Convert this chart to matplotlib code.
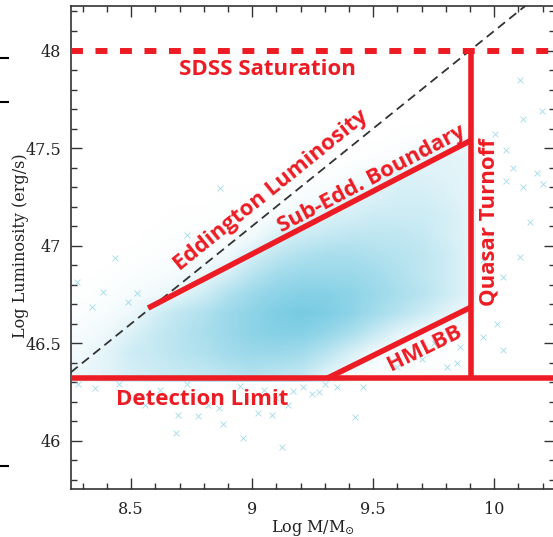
import numpy as np
import matplotlib.pyplot as plt
from matplotlib.colors import LinearSegmentedColormap
from matplotlib.lines import Line2D
from matplotlib.patches import Rectangle
from matplotlib.ticker import MultipleLocator, FuncFormatter

# dense quasar cloud, read off as a coarse density map
# (cell centres in log M and log L, relative density 0..10)
mass_grid = [8.3, 8.4, 8.5, 8.6, 8.7, 8.8, 8.9, 9.0, 9.1, 9.2, 9.3, 9.4, 9.5, 9.6, 9.7, 9.8, 9.9]
lum_grid = [46.35, 46.45, 46.55, 46.65, 46.75, 46.85, 46.95, 47.05, 47.15, 47.25, 47.35, 47.45, 47.55, 47.65]
density = [
    [1.5, 2.0, 3.0, 3.5, 4.0, 4.5, 5.0, 5.5, 5.0, 4.5, 2.5, 0.8, 0.4, 0.3, 0.2, 0.1, 0.1],
    [1.0, 2.0, 3.5, 4.0, 5.0, 5.5, 6.5, 7.0, 7.0, 6.5, 5.0, 3.0, 1.0, 0.4, 0.3, 0.2, 0.1],
    [0.6, 1.2, 2.5, 4.0, 5.0, 6.0, 7.0, 8.0, 8.5, 8.5, 7.5, 6.0, 4.0, 2.0, 0.6, 0.3, 0.2],
    [0.3, 0.6, 1.2, 3.0, 4.5, 5.5, 7.0, 8.0, 9.0, 9.5, 9.0, 8.0, 6.5, 5.0, 3.5, 2.0, 1.0],
    [0.1, 0.3, 0.6, 1.0, 2.0, 3.5, 5.5, 7.0, 8.0, 8.5, 8.5, 8.0, 7.0, 6.0, 5.0, 3.5, 2.0],
    [0.0, 0.1, 0.3, 0.5, 0.8, 1.5, 3.0, 5.0, 6.5, 7.0, 7.0, 7.0, 6.5, 5.5, 4.5, 3.5, 2.0],
    [0.0, 0.0, 0.1, 0.2, 0.3, 0.5, 1.0, 3.0, 4.5, 5.5, 6.0, 6.0, 5.5, 5.0, 4.5, 3.5, 2.0],
    [0.0, 0.0, 0.0, 0.1, 0.2, 0.3, 0.3, 0.8, 2.5, 3.5, 4.0, 4.5, 4.5, 4.5, 4.0, 3.0, 2.0],
    [0.0, 0.0, 0.0, 0.0, 0.1, 0.1, 0.2, 0.3, 0.6, 1.5, 2.5, 3.0, 3.5, 3.5, 3.5, 3.0, 2.0],
    [0.0, 0.0, 0.0, 0.0, 0.0, 0.0, 0.1, 0.1, 0.2, 0.4, 0.8, 2.0, 2.5, 3.0, 3.0, 2.5, 1.8],
    [0.0, 0.0, 0.0, 0.0, 0.0, 0.0, 0.0, 0.0, 0.1, 0.1, 0.2, 0.4, 1.0, 2.5, 2.5, 2.2, 1.8],
    [0.0, 0.0, 0.0, 0.0, 0.0, 0.0, 0.0, 0.0, 0.0, 0.0, 0.0, 0.1, 0.2, 0.4, 1.5, 2.0, 1.8],
    [0.0, 0.0, 0.0, 0.0, 0.0, 0.0, 0.0, 0.0, 0.0, 0.0, 0.0, 0.0, 0.0, 0.1, 0.2, 0.5, 0.8],
    [0.0, 0.0, 0.0, 0.0, 0.0, 0.0, 0.0, 0.0, 0.0, 0.0, 0.0, 0.0, 0.0, 0.0, 0.0, 0.0, 0.0],
]

# sparse quasars outside the main cloud
out_mass = [8.279, 8.556, 8.693, 8.776, 8.687, 8.879, 8.964, 9.023, 9.084, 9.125,
            9.426, 9.456, 9.350, 9.278, 9.247, 9.212, 8.862, 8.817, 9.147, 9.169,
            8.35, 8.45, 8.62, 8.95, 9.05, 9.30, 8.73, 9.10,
            10.107, 10.12, 10.196, 10.003, 10.05, 10.078, 10.176, 10.12, 10.05,
            10.203, 10.148, 10.107, 10.038, 9.983, 9.954, 10.01, 9.955, 10.038,
            8.867, 8.433, 8.729, 8.385, 8.337, 8.275, 8.523, 8.488,
            9.804, 9.845, 9.859, 9.60, 9.70, 9.75]
out_lum = [46.290, 46.184, 46.132, 46.126, 46.039, 46.085, 46.016, 46.143, 46.130, 45.968,
           46.121, 46.275, 46.275, 46.249, 46.239, 46.275, 46.167, 46.183, 46.184, 46.257,
           46.27, 46.29, 46.26, 46.28, 46.26, 46.29, 46.29, 46.22,
           47.847, 47.65, 47.69, 47.574, 47.49, 47.40, 47.37, 47.30, 47.33,
           47.318, 47.121, 46.942, 46.84, 47.062, 46.925, 46.60, 46.532, 46.464,
           47.297, 46.939, 47.053, 46.763, 46.686, 46.814, 46.755, 46.712,
           46.379, 46.396, 46.481, 46.38, 46.42, 46.50]

# selection boundaries
detection_limit = 46.32
sdss_saturation = 48.0
turnoff_mass = 9.905
subedd_mass = [8.57, 9.905]
subedd_lum = [46.68, 47.54]
hmlbb_mass = [9.31, 9.905]
hmlbb_lum = [46.32, 46.685]
edd_mass = [8.25, 10.25]
edd_lum = [46.35, 48.35]

red = '#ed1c24'
cloud_blue = '#62c3de'

plt.rcParams['mathtext.fontset'] = 'dejavuserif'

fig = plt.figure(figsize=(5.53, 5.37), dpi=100)
ax = fig.add_axes([0.1278, 0.0885, 0.8752, 0.901])
ax.set_xlim(8.25, 10.25)
ax.set_ylim(45.75, 48.23)

cmap = LinearSegmentedColormap.from_list('cloud', ['white', cloud_blue])
im = ax.imshow(np.array(density), origin='lower', aspect='auto', cmap=cmap,
               vmin=0, vmax=11, interpolation='bilinear',
               extent=(8.25, 9.95, 46.30, 47.70), zorder=1)
clip = Rectangle((8.25, 46.30), turnoff_mass + 0.015 - 8.25, 1.4,
                 transform=ax.transData)
im.set_clip_path(clip)

ax.scatter(out_mass, out_lum, marker='x', s=18, linewidths=0.6,
           color=cloud_blue, alpha=0.6, zorder=2)

# Eddington limit
ax.plot(edd_mass, edd_lum, color='#333333', lw=1.3, dashes=(5, 3), zorder=3)

# red boundaries
ax.axhline(sdss_saturation, color=red, lw=4.3, dashes=(2.0, 2.1), zorder=4)
ax.axhline(detection_limit, color=red, lw=4.0, zorder=4)
ax.plot([turnoff_mass, turnoff_mass], [detection_limit, sdss_saturation],
        color=red, lw=4.0, solid_capstyle='butt', zorder=4)
ax.plot(subedd_mass, subedd_lum, color=red, lw=4.0, solid_capstyle='butt', zorder=4)
ax.plot(hmlbb_mass, hmlbb_lum, color=red, lw=4.0, solid_capstyle='butt', zorder=4)

lab = dict(color=red, fontsize=16, fontweight='bold', family='Open Sans', zorder=5)
ax.text(9.065, 47.873, 'SDSS Saturation', ha='center', va='baseline', **lab)
ax.text(8.793, 46.184, 'Detection Limit', ha='center', va='baseline', **lab)
ax.text(9.978, 47.12, 'Quasar Turnoff', rotation=90, ha='center', va='center', **lab)
ax.text(9.714, 46.474, 'HMLBB', rotation=26.2, rotation_mode='anchor',
        ha='center', va='center', **lab)
ax.text(9.495, 47.339, 'Sub-Edd. Boundary', rotation=27.7, rotation_mode='anchor',
        ha='center', va='center', **lab)
ax.text(9.078, 47.283, 'Eddington Luminosity', rotation=38.9, rotation_mode='anchor',
        ha='center', va='center', **lab)

# axes styling
ax.xaxis.set_major_locator(MultipleLocator(0.5))
ax.xaxis.set_minor_locator(MultipleLocator(0.1))
ax.yaxis.set_major_locator(MultipleLocator(0.5))
ax.yaxis.set_minor_locator(MultipleLocator(0.1))
fmt = FuncFormatter(lambda v, p: '%g' % v)
ax.xaxis.set_major_formatter(fmt)
ax.yaxis.set_major_formatter(fmt)
ax.tick_params(which='both', direction='in', top=True, right=True, color='#333333',
               labelcolor='#222222', labelsize=11.5)
ax.tick_params(which='major', length=8, width=1.0)
ax.tick_params(which='minor', length=4, width=1.0)
ax.tick_params(axis='x', pad=8)
ax.tick_params(axis='y', pad=7)
for lbl in ax.get_xticklabels() + ax.get_yticklabels():
    lbl.set_family('DejaVu Serif')
for sp in ax.spines.values():
    sp.set_color('#333333')
    sp.set_linewidth(1.2)

fig.text(313 / 553, 0.009, r'Log M/M$_{\odot}$', ha='center', va='baseline',
         fontsize=11.5, family='DejaVu Serif', color='#222222')
fig.text(21 / 553, 1 - 246 / 537, 'Log Luminosity (erg/s)', rotation=90,
         ha='center', va='center', fontsize=11.5, family='DejaVu Serif', color='#222222')

# little marks in the left margin of the scanned page
for yf in [1 - 58 / 537, 1 - 102 / 537, 1 - 466 / 537]:
    fig.add_artist(Line2D([0, 8 / 553], [yf, yf], transform=fig.transFigure,
                          color='black', lw=1.5))

fig.savefig('out.png', dpi=100)
